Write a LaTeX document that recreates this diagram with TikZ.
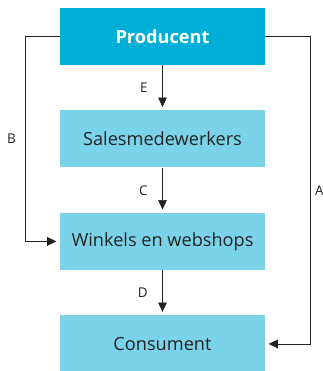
\documentclass[tikz,border=0pt]{standalone}
\usepackage{fontspec}
\setmainfont{Open Sans}
\usepackage{xcolor}
\usepackage{tikz}
\usetikzlibrary{arrows.meta, positioning}
\definecolor{darkcyan}{HTML}{00AFD8}
\definecolor{lightcyan}{HTML}{7BD3EA}
\definecolor{inktext}{HTML}{222222}
\tikzstyle{box} = [rectangle, fill=lightcyan, text=inktext, minimum width=6.15cm, minimum height=1.71cm, text centered, font=\fontsize{15.5pt}{18pt}\selectfont]
\tikzstyle{arrow} = [semithick, draw=inktext, -{Triangle[length=2.8mm, width=2.6mm]}, shorten >=1mm]
\tikzstyle{lbl} = [text=inktext, inner sep=1pt, font=\fontsize{11.5pt}{13pt}\selectfont]

\begin{document}
\begin{tikzpicture}[node distance=1.35cm]
        \useasboundingbox (0,0) rectangle (9.69,-11.13);
        \node (prod) [box, fill=darkcyan, text=white, font=\fontsize{15.5pt}{18pt}\selectfont\bfseries] at (4.875,-1.095) {Producent};
        \node (sales) [box, below=of prod] {Salesmedewerkers};
        \node (winkels) [box, below=of sales] {Winkels en webshops};
        \node (cons) [box, below=of winkels] {Consument};

        \draw [arrow] (prod) -- node[lbl, left=4mm] {E} (sales);
        \draw [arrow] (sales) -- node[lbl, left=4mm] {C} (winkels);
        \draw [arrow] (winkels) -- node[lbl, left=4mm] {D} (cons);
        \draw [arrow] (prod.west) -- ++(-1.02,0) |- node[lbl, left=2.5mm, pos=0.25] {B} (winkels.west);
        \draw [arrow] (prod.east) -- ++(1.35,0) |- node[lbl, right=1mm, pos=0.25] {A} (cons.east);
    \end{tikzpicture}
\end{document}
